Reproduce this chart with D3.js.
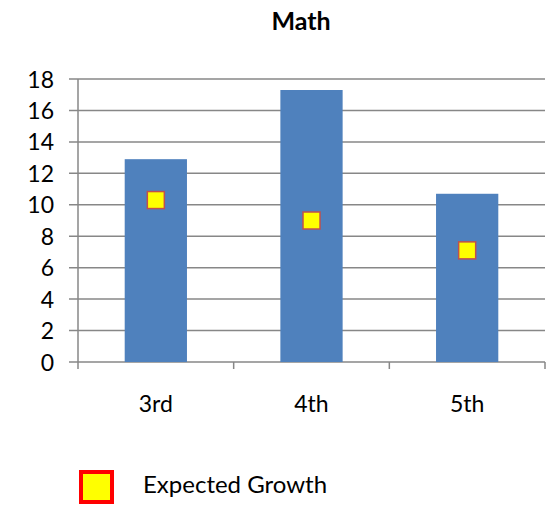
<!DOCTYPE html>
<html>
<head>
<meta charset="utf-8">
<script src="https://cdn.jsdelivr.net/npm/d3@7"></script>
<style>
  body { margin: 0; background: #fff; }
  svg text { font-family: Lato, "Open Sans", sans-serif; fill: #000; }
</style>
</head>
<body>
<svg id="chart" width="546" height="505"></svg>
<script>
// values
const grades = ["3rd", "4th", "5th"];
const actualGrowth = [12.9, 17.3, 10.7];
const expectedGrowth = [10.3, 9.0, 7.1];
const yTicks = [0, 2, 4, 6, 8, 10, 12, 14, 16, 18];

const svg = d3.select("#chart");
const plotL = 78, plotR = 545, plotT = 79, plotB = 362;

const x = d3.scaleBand().domain(grades).range([plotL, plotR]).paddingInner(0.6).paddingOuter(0.3);
const y = d3.scaleLinear().domain([0, 18]).range([plotB, plotT]);
const band = (plotR - plotL) / grades.length;

// title
svg.append("text")
  .attr("x", 301).attr("y", 30)
  .attr("text-anchor", "middle")
  .style("font-size", "25px").style("font-weight", "bold")
  .text("Math");

// gridlines + left tick marks
svg.append("g").selectAll("line").data(yTicks).join("line")
  .attr("x1", plotL - 9).attr("x2", plotR)
  .attr("y1", d => y(d)).attr("y2", d => y(d))
  .attr("stroke", "#878787").attr("stroke-width", 1.5);

// y labels
svg.append("g").selectAll("text").data(yTicks).join("text")
  .attr("x", 54).attr("y", d => y(d) + 8.5)
  .attr("text-anchor", "end")
  .style("font-size", "23px")
  .text(d => d);

// y axis line
svg.append("line")
  .attr("x1", plotL).attr("x2", plotL).attr("y1", plotT).attr("y2", plotB)
  .attr("stroke", "#878787").attr("stroke-width", 1.5);

// category tick marks
svg.append("g").selectAll("line").data(d3.range(grades.length + 1)).join("line")
  .attr("x1", i => plotL + i * band).attr("x2", i => plotL + i * band)
  .attr("y1", plotB).attr("y2", plotB + 7)
  .attr("stroke", "#878787").attr("stroke-width", 1.5);

// bars
svg.append("g").selectAll("rect").data(actualGrowth).join("rect")
  .attr("x", (d, i) => x(grades[i]))
  .attr("width", x.bandwidth())
  .attr("y", d => y(d))
  .attr("height", d => y(0) - y(d))
  .attr("fill", "#4F81BD");

// expected growth markers
const m = 17;
svg.append("g").selectAll("rect").data(expectedGrowth).join("rect")
  .attr("x", (d, i) => x(grades[i]) + x.bandwidth() / 2 - m / 2)
  .attr("y", d => y(d) - m / 2)
  .attr("width", m).attr("height", m)
  .attr("fill", "#FFFF00").attr("stroke", "#C0504D").attr("stroke-width", 1.5);

// x labels
svg.append("g").selectAll("text").data(grades).join("text")
  .attr("x", d => x(d) + x.bandwidth() / 2).attr("y", 412)
  .attr("text-anchor", "middle")
  .style("font-size", "23px")
  .text(d => d);

// legend
svg.append("rect")
  .attr("x", 81).attr("y", 472).attr("width", 31).attr("height", 30)
  .attr("fill", "#FFFF00").attr("stroke", "#FF0000").attr("stroke-width", 4);
svg.append("text")
  .attr("x", 143).attr("y", 493)
  .style("font-size", "24px")
  .text("Expected Growth");
</script>
</body>
</html>
